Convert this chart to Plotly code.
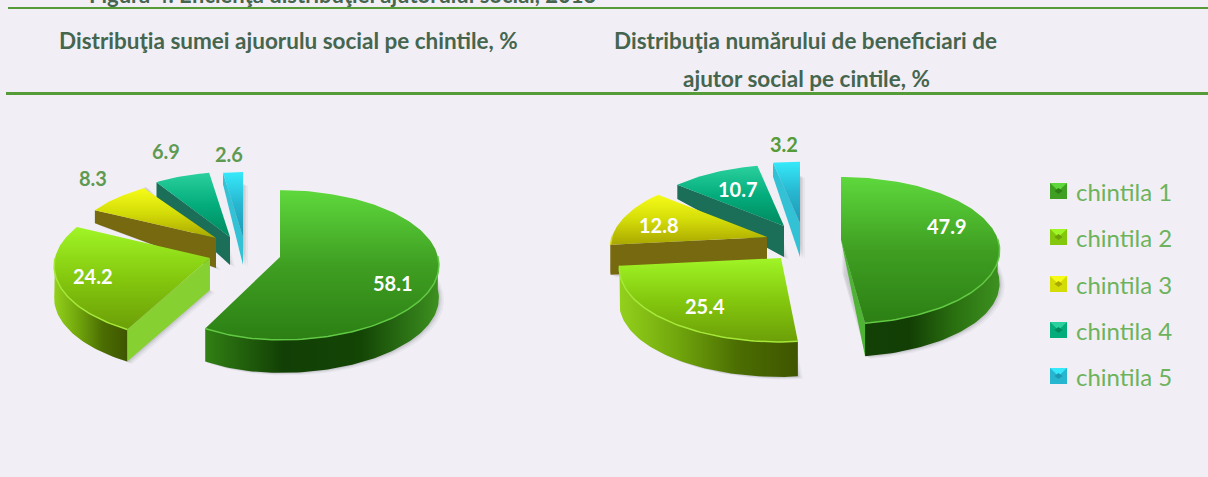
import math
import plotly.graph_objects as go

chintile = ["chintila 1", "chintila 2", "chintila 3", "chintila 4", "chintila 5"]
suma_ajutor = [58.1, 24.2, 8.3, 6.9, 2.6]
numar_beneficiari = [47.9, 25.4, 12.8, 10.7, 3.2]
figure_title = "Figura 4. Eficienţa distribuţiei ajutorului social, 2013"
title_left = "Distribuţia sumei ajuorulu social pe chintile, %"
title_right = ["Distribuţia numărului de beneficiari de", "ajutor social pe cintile, %"]

BG = "#f1eff5"
RULE = "#559b38"
HEAD = "#46654f"
LEG = "#6db35c"

# colour per quintile: top-face stops, wall stops, cut-face colour, rim
STYLE = [
    dict(top=["#5ed83c", "#3f9f22", "#2c7f14"], wall=["#318014", "#123f05", "#134505", "#3d9120"], cut="#4fb435", rim="#62c944"),
    dict(top=["#a0f526", "#84c80e", "#6c9f08"], wall=["#93d11c", "#70a50c", "#4b6d02", "#3f5500"], cut="#86d031", rim="#a5e83a"),
    dict(top=["#f6fc18", "#d4dc08", "#a9a700"], wall=["#7b6e12", "#75690f"], cut="#76690f", rim="#d8dc20"),
    dict(top=["#2ad19e", "#04ac7c", "#00895f"], wall=["#1b7059", "#1a6a54"], cut="#1b6e57", rim="#2ad19e"),
    dict(top=["#36e9fa", "#27b6d0", "#1f98b4"], wall=["#35c6da", "#30bcd2"], cut="#33c1d6", rim="#36e9fa"),
]

# layout of each exploded slice: apex pixel, radii, perspective, wall depth, far-wall taper, visible cut
LEFT_GEOM = [
    dict(ax=280, ay=257, rx=158, rxn=140, ry=74, k=0.107, d=33, q=0.3, cut=None),
    dict(ax=210, ay=258, rx=155, ry=74, k=0.107, d=32, q=0.3, cut="start"),
    dict(ax=216, ay=238, rx=143, ry=67, k=0.14, d=30, q=1.3, cut="start"),
    dict(ax=230, ay=237, rx=146, ry=74, k=0.14, d=28, q=0.52, cut="start"),
    dict(ax=243, ay=237, rx=140, ry=74, k=0.14, d=28, q=0.6, cut="start"),
]
RIGHT_GEOM = [
    dict(ax=841, ay=240, rx=157, ry=72, k=0.143, d=33, q=0.3, cut="end0",
         wall=["#124005", "#133f05", "#2a7010", "#3d9120"]),
    dict(ax=781, ay=258, rx=160, rxp=110, ry=72, k=0.143, d=35, q=0.3, cut=None),
    dict(ax=767, ay=237, rx=155, ry=72, k=0.143, d=30, q=0.3, cut="start"),
    dict(ax=784, ay=226, rx=152, ry=70, k=0.143, d=31, q=0.85, cut="start"),
    dict(ax=800, ay=223, rx=154, ry=70, k=0.143, d=34, q=0.6, cut="start"),
]
LEFT_LABELS = [(393, 283, "#ffffff"), (93, 276, "#ffffff"), (93, 178, "#5f9a52"), (166, 151, "#5f9a52"), (229, 154, "#5f9a52")]
RIGHT_LABELS = [(947, 226, "#ffffff"), (705, 306, "#ffffff"), (659, 225, "#ffffff"), (738, 189, "#ffffff"), (784, 144, "#559b38")]
LEGEND_Y = [191, 237, 284, 330, 376]

fig = go.Figure()


def project(g, theta):
    X = math.sin(theta)
    Y = -math.cos(theta)
    w = 1 - g["k"] * Y
    rx = g.get("rxp", g["rx"]) if X > 0 else g.get("rxn", g["rx"])
    return g["ax"] + rx * X / w, g["ay"] + g["ry"] * Y / w, Y


def stops(colors):
    n = len(colors) - 1
    return [[i / n, c] for i, c in enumerate(colors)]


def poly(xs, ys, fill=None, grad=None, gtype="vertical"):
    kw = dict(x=list(xs) + [xs[0]], y=list(ys) + [ys[0]], mode="lines", line=dict(width=0), hoverinfo="skip",
              showlegend=False, fill="toself")
    if grad:
        kw["fillgradient"] = dict(type=gtype, colorscale=stops(grad))
    else:
        kw["fillcolor"] = fill
    fig.add_trace(go.Scatter(**kw))


def slice_polys(g, a0, a1, st):
    n = max(8, int((a1 - a0) * 40))
    arc = [a0 + (a1 - a0) * i / n for i in range(n + 1)]
    top = [project(g, a) for a in arc]
    tx = [p[0] for p in top]
    ty = [p[1] for p in top]

    def depth(Y):
        return g["d"] * (1 + g["q"] * min(Y, 0))

    # soft shadow
    sx = [g["ax"]] + tx
    sy = [g["ay"] + g["d"]] + [p[1] + depth(p[2]) for p in top]
    for off, alpha in ((5, 0.05), (3, 0.08), (1.5, 0.10)):
        poly([v + off for v in sx], [v + off * 0.5 for v in sy], fill=f"rgba(60,60,70,{alpha})")

    # cut faces
    if g["cut"] == "start":
        p = top[0]
        poly([g["ax"], p[0], p[0], g["ax"]],
             [g["ay"], p[1], p[1] + depth(p[2]), g["ay"] + depth(0)], fill=st["cut"])
    elif g["cut"] == "end0":
        p = top[-1]
        poly([g["ax"], p[0], p[0]], [g["ay"], p[1], p[1] + depth(p[2])], fill=st["cut"])

    # outer wall
    front = [p for p in top if p[2] > -0.02]
    if front:
        fx = [p[0] for p in front]
        fy = [p[1] for p in front]
        bot = [p[1] + depth(p[2]) for p in front]
        poly(fx + fx[::-1], fy + bot[::-1], grad=g.get("wall", st["wall"]), gtype="horizontal")

    # top face (the y axis runs downward, so the stops are reversed)
    poly([g["ax"]] + tx, [g["ay"]] + ty, grad=st["top"][::-1], gtype="vertical")

    # rim highlight on the front edge
    if front:
        fig.add_trace(go.Scatter(x=fx, y=fy, mode="lines", line=dict(color=st["rim"], width=1.5),
                                 hoverinfo="skip", showlegend=False))


def pie(values, geom):
    total = sum(values)
    angles = []
    c = 0.0
    for v in values:
        angles.append((c / total * 2 * math.pi, (c + v) / total * 2 * math.pi))
        c += v
    for i in (4, 3, 2, 1, 0):
        slice_polys(geom[i], angles[i][0], angles[i][1], STYLE[i])


pie(suma_ajutor, LEFT_GEOM)
pie(numar_beneficiari, RIGHT_GEOM)

ann = []


def text(x, y, s, size, color, bold=True, anchor="center", family="Lato"):
    ann.append(dict(x=x, y=y, xref="x", yref="y", text=f"<b>{s}</b>" if bold else s, showarrow=False,
                    xanchor=anchor, yanchor="middle", font=dict(family=family, size=size, color=color)))


for vals, labs in ((suma_ajutor, LEFT_LABELS), (numar_beneficiari, RIGHT_LABELS)):
    for v, (x, y, col) in zip(vals, labs):
        text(x, y, f"{v:.1f}", 20, col)

# the caption is cut by the top edge of the page, as in the source image
ann.append(dict(x=342, y=1, xref="x", yref="paper", yshift=6, text=f"<b>{figure_title}</b>", showarrow=False,
                xanchor="center", yanchor="middle", font=dict(family="Lato", size=22, color=HEAD)))
text(288, 40, title_left, 22.5, HEAD)
text(805, 40, title_right[0], 22.5, HEAD)
text(806, 78, title_right[1], 22.5, HEAD)

# legend
for name, y, st in zip(chintile, LEGEND_Y, STYLE):
    x0, x1, y0, y1 = 1050, 1067, y - 8, y + 8
    xm, ym = (x0 + x1) / 2, y
    poly([x0, x1, x1, x0], [y0, y0, y1, y1], fill=st["top"][1])
    poly([x0, x1, xm], [y0, y0, ym], fill=st["top"][0])
    poly([x0, x1, xm], [y1, y1, ym], fill=st["top"][1])
    poly([xm - 4, xm, xm + 4, xm], [ym, ym - 3, ym, ym + 3], fill=st["top"][2])
    text(1074, y, name, 24, LEG, bold=False, anchor="left")

shapes = [
    dict(type="line", xref="x", yref="y", x0=8, x1=1208, y0=8, y1=8, line=dict(color=RULE, width=2)),
    dict(type="line", xref="x", yref="y", x0=6, x1=1208, y0=93.5, y1=93.5, line=dict(color=RULE, width=3)),
]

fig.update_layout(
    width=1208, height=477, margin=dict(l=0, r=0, t=0, b=0),
    paper_bgcolor=BG, plot_bgcolor=BG, showlegend=False,
    xaxis=dict(range=[0, 1208], visible=False, fixedrange=True),
    yaxis=dict(range=[477, 0], visible=False, fixedrange=True),
    annotations=ann, shapes=shapes,
)
fig.write_html("out.html", config=dict(displayModeBar=False),
               post_script="document.body.style.margin='0';document.body.style.overflow='hidden';")
